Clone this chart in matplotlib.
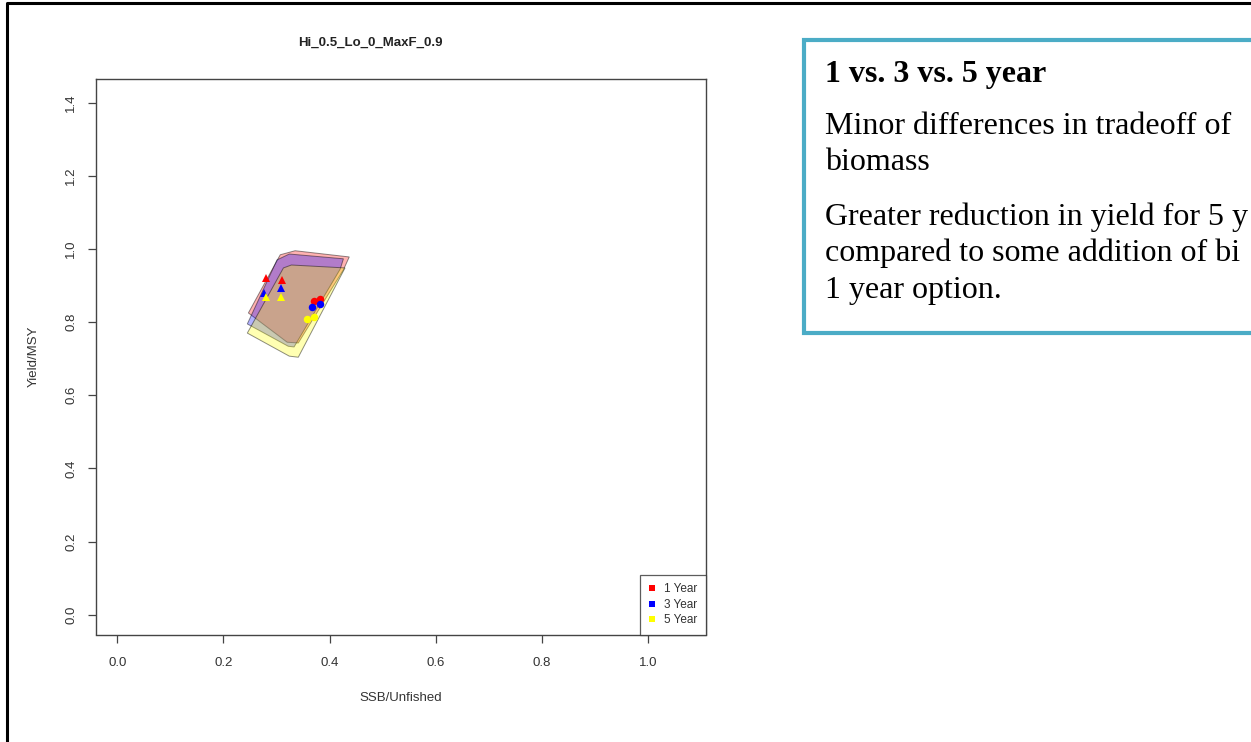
import matplotlib
matplotlib.use("Agg")
import matplotlib.pyplot as plt
from matplotlib.patches import Polygon, Rectangle
from matplotlib.lines import Line2D

# outlines of the three regions (SSB/Unfished, Yield/MSY)
hull_1yr_x = [0.247, 0.307, 0.335, 0.437, 0.426, 0.341, 0.320]
hull_1yr_y = [0.825, 0.984, 0.995, 0.978, 0.943, 0.743, 0.745]
hull_3yr_x = [0.245, 0.301, 0.324, 0.426, 0.420, 0.333, 0.322]
hull_3yr_y = [0.795, 0.970, 0.986, 0.973, 0.945, 0.732, 0.734]
hull_5yr_x = [0.245, 0.313, 0.328, 0.429, 0.341, 0.324]
hull_5yr_y = [0.770, 0.948, 0.956, 0.948, 0.704, 0.707]

# triangles and circles for each option
tri_x = {"1 Year": [0.281, 0.311], "3 Year": [0.277, 0.309], "5 Year": [0.281, 0.309]}
tri_y = {"1 Year": [0.921, 0.915], "3 Year": [0.880, 0.893], "5 Year": [0.869, 0.869]}
dot_x = {"1 Year": [0.371, 0.382], "3 Year": [0.367, 0.382], "5 Year": [0.358, 0.371]}
dot_y = {"1 Year": [0.858, 0.863], "3 Year": [0.841, 0.849], "5 Year": [0.808, 0.814]}

options = ["1 Year", "3 Year", "5 Year"]
colours = {"1 Year": "#FF0000", "3 Year": "#0000FF", "5 Year": "#FFFF00"}
hulls = {"1 Year": (hull_1yr_x, hull_1yr_y),
         "3 Year": (hull_3yr_x, hull_3yr_y),
         "5 Year": (hull_5yr_x, hull_5yr_y)}

x_ticks = [0.0, 0.2, 0.4, 0.6, 0.8, 1.0]
y_ticks = [0.0, 0.2, 0.4, 0.6, 0.8, 1.0, 1.2, 1.4]

title = "Hi_0.5_Lo_0_MaxF_0.9"
heading = "1 vs. 3 vs. 5 year"
# the slide crops these lines at its right edge, keep only what is visible
body_lines = [
    ("Minor differences in tradeoff of", 134),
    ("biomass", 170),
    ("Greater reduction in yield for 5 y", 225),
    ("compared to some addition of bi", 261.5),
    ("1 year option.", 298),
]

W, H = 1251, 742
fig = plt.figure(figsize=(W / 100, H / 100), dpi=100)


def fx(px):
    return px / W


def fy(py):
    return 1 - py / H


sans = "Liberation Sans"
serif = "Liberation Serif"
grey = "#333333"

ax = fig.add_axes([fx(95.5), fy(634.5), fx(706) - fx(95.5), fy(78.5) - fy(634.5)])

for opt in options:
    px, py = hulls[opt]
    ax.add_patch(Polygon(list(zip(px, py)), closed=True, facecolor=colours[opt],
                         alpha=0.3, edgecolor="none"))
    ax.add_patch(Polygon(list(zip(px, py)), closed=True, facecolor="none",
                         edgecolor=(0, 0, 0, 0.45), linewidth=0.7))
    ax.plot(tri_x[opt], tri_y[opt], linestyle="none", marker="^", markersize=6,
            color=colours[opt], markeredgewidth=0)
    ax.plot(dot_x[opt], dot_y[opt], linestyle="none", marker="o", markersize=5.4,
            color=colours[opt], markeredgewidth=0)

ax.set_xlim(-0.041, 1.109)
ax.set_ylim(-0.0536, 1.4656)
ax.set_xticks(x_ticks)
ax.set_yticks(y_ticks)
ax.set_xticklabels([f"{v:.1f}" for v in x_ticks], fontsize=9.5, family=sans, color=grey)
ax.set_yticklabels([f"{v:.1f}" for v in y_ticks], fontsize=9.5, family=sans, color=grey,
                   rotation=90, va="center")
ax.tick_params(axis="x", direction="out", length=6, width=0.9, color="#444444", pad=10)
ax.tick_params(axis="y", direction="out", length=6, width=0.9, color="#444444", pad=7)
for sp in ax.spines.values():
    sp.set_color("#444444")
    sp.set_linewidth(1.0)

ax.set_xlabel("SSB/Unfished", fontsize=9.5, family=sans, color=grey)
ax.set_ylabel("Yield/MSY", fontsize=9.5, family=sans, color=grey)
ax.xaxis.set_label_coords(0.5, -(692 - 634.5) / 556)
ax.yaxis.set_label_coords(-(95.5 - 40) / 610.5, 0.5)

handles = [Line2D([], [], linestyle="none", marker="s", markersize=4,
                  color=colours[o], markeredgewidth=0) for o in options]
leg = ax.legend(handles, options, loc="lower right", frameon=True, fancybox=False,
                borderaxespad=0, handlelength=0.6, handletextpad=0.8,
                labelspacing=0.3, borderpad=0.7, prop={"family": sans, "size": 8.5})
leg.get_frame().set_edgecolor("#333333")
leg.get_frame().set_linewidth(0.9)
for t in leg.get_texts():
    t.set_color(grey)

fig.text(fx(370), fy(43), title, ha="center", va="center", fontsize=9.5,
         fontweight="bold", family=sans, color="#222222")

# slide frame
fig.add_artist(Line2D([fx(7), fx(7), fx(W + 5)], [fy(H + 5), fy(2.5), fy(2.5)],
                      transform=fig.transFigure, color="black", linewidth=2.2))

# teal text box
box = Rectangle((fx(803.5), fy(333)), fx(1400) - fx(803.5), fy(40) - fy(333),
                transform=fig.transFigure, facecolor="white", edgecolor="#4BACC6",
                linewidth=3.0)
fig.add_artist(box)

fig.text(fx(825), fy(82), heading, ha="left", va="baseline", fontsize=23,
         fontweight="bold", family=serif, color="black")
for line, base in body_lines:
    fig.text(fx(825), fy(base), line, ha="left", va="baseline", fontsize=23,
             family=serif, color="black")

fig.savefig("out.png", dpi=100)
